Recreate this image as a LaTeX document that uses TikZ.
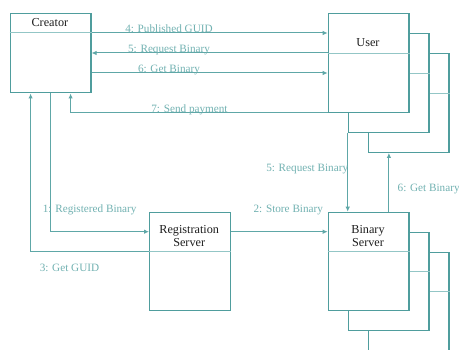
\documentclass[tikz,border=0pt]{standalone}
\usepackage{fontspec}
\setmainfont{Liberation Serif}
\usetikzlibrary{arrows.meta}

\definecolor{boxline}{HTML}{4F9D9D}
\definecolor{wirecol}{HTML}{5EA7A7}
\definecolor{sepline}{HTML}{93C6C6}
\definecolor{labeltext}{HTML}{72B2B2}
\definecolor{nametext}{HTML}{1E1E1E}

\tikzset{
  objbox/.style={draw=boxline, line width=1.2pt, fill=white, rectangle,
    anchor=north west, minimum width=80.6pt, minimum height=98.4pt, inner sep=0pt},
  creatorbox/.style={objbox, minimum height=79pt},
  sepline/.style={draw=sepline, line width=1pt},
  boxname/.style={text=nametext, font=\fontsize{12.2}{13.4}\selectfont, align=center, inner sep=0pt},
  msgtext/.style={text=labeltext, font=\fontsize{11.2}{12}\selectfont, inner sep=0pt, anchor=base},
  msgarrow/.style={draw=wirecol, line width=1pt, -{Latex[length=5pt,width=4.5pt]}},
}

\begin{document}
\begin{tikzpicture}[x=1pt,y=-1pt]
\clip (0,0) rectangle (459,350);
\fill[white] (0,0) rectangle (459,350);

% Creator
\node[creatorbox] (creator) at (9.7,13.3) {};
\draw[sepline] (creator.west |- 0,33) -- (creator.east |- 0,33);
\node[boxname, anchor=base] (creatorname) at (49.9,26.7) {Creator};

% User (multi-object stack)
\node[objbox] (user3) at (367.7,53.3) {};
\draw[sepline] (user3.west |- 0,93.3) -- (user3.east |- 0,93.3);
\node[objbox] (user2) at (347.7,33.3) {};
\draw[sepline] (user2.west |- 0,73.3) -- (user2.east |- 0,73.3);
\node[objbox] (user) at (327.7,13.3) {};
\draw[sepline] (user.west |- 0,53.3) -- (user.east |- 0,53.3);
\node[boxname, anchor=base] (username) at (368,46.3) {User};

% Binary Server (multi-object stack)
\node[objbox] (bin3) at (367.7,251.7) {};
\draw[sepline] (bin3.west |- 0,291.7) -- (bin3.east |- 0,291.7);
\node[objbox] (bin2) at (347.7,231.7) {};
\draw[sepline] (bin2.west |- 0,271.7) -- (bin2.east |- 0,271.7);
\node[objbox] (bin) at (327.7,211.7) {};
\draw[sepline] (bin.west |- 0,251.7) -- (bin.east |- 0,251.7);
\node[boxname] (binname) at (368,236) {Binary\\Server};

% Registration Server
\node[objbox] (reg) at (149,211.7) {};
\draw[sepline] (reg.west |- 0,251.7) -- (reg.east |- 0,251.7);
\node[boxname] (regname) at (189.2,236) {Registration\\Server};

% Messages between Creator and User
\draw[msgarrow] (creator.east |- 0,33) -- (user.west |- 0,33);
\draw[msgarrow] (user.west |- 0,53) -- (creator.east |- 0,53);
\draw[msgarrow] (creator.east |- 0,73) -- (user.west |- 0,73);
\draw[msgarrow] (user.south west) -| ([xshift=20pt]creator.south);

% Messages around the Registration Server
\draw[msgarrow] (creator.south) |- (reg.west |- 0,231.7);
\draw[msgarrow] (reg.west |- 0,251.7) -| ([xshift=-20pt]creator.south);
\draw[msgarrow] (reg.east |- 0,231.7) -- (bin.west |- 0,231.7);

% Messages between User and Binary Server
\draw[msgarrow] (user2.south west) -- (bin.north -| user2.south west);
\draw[msgarrow] ([xshift=20.3pt]bin.north) -- ([xshift=20.3pt]bin.north |- user3.south);

% Message labels (placed on their baselines)
\node[msgtext] (m4) at (169,33) {4: Published GUID};
\node[msgtext] (m5a) at (169,52.8) {5: Request Binary};
\node[msgtext] (m6a) at (169,72.8) {6: Get Binary};
\node[msgtext] (m7) at (189.5,112.3) {7: Send payment};
\node[msgtext] (m1) at (89.7,212.3) {1: Registered Binary};
\node[msgtext] (m3) at (69.5,271.7) {3: Get GUID};
\node[msgtext] (m2) at (288.3,212.3) {2: Store Binary};
\node[msgtext, anchor=base east] (m5b) at (348.3,171.7) {5: Request Binary};
\node[msgtext, anchor=base west] (m6b) at (397.5,191.7) {6: Get Binary};
\end{tikzpicture}
\end{document}
